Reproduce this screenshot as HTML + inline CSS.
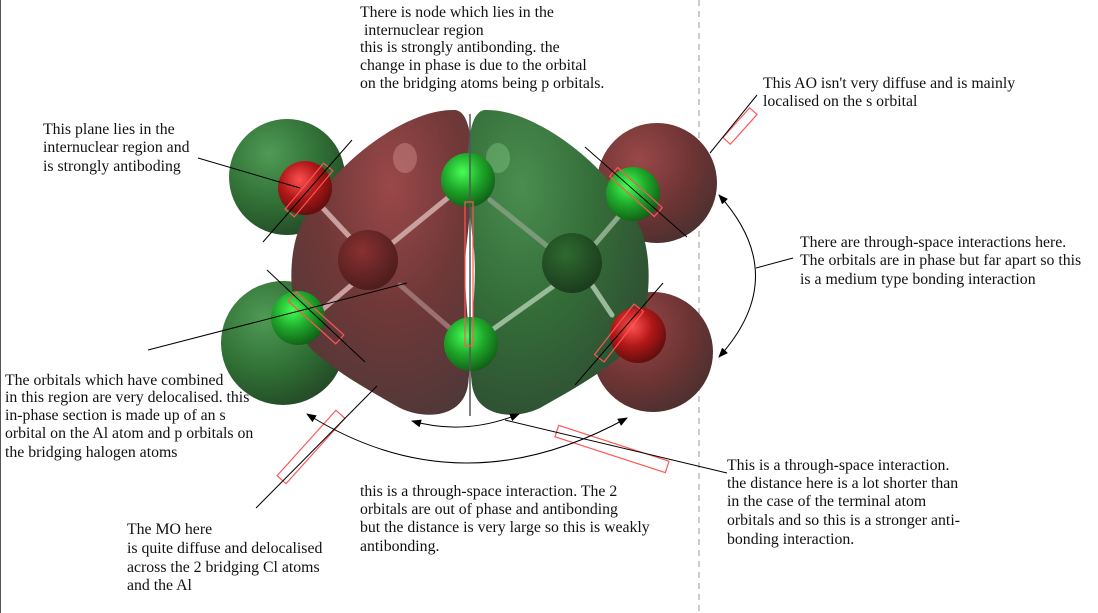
<!DOCTYPE html>
<html><head><meta charset="utf-8"><style>
html,body{margin:0;padding:0;background:#fff;}
svg{display:block}
text{font-family:"Liberation Serif",serif;font-size:15.8px;fill:#111}
</style></head><body>
<svg width="1098" height="613" viewBox="0 0 1098 613" xmlns="http://www.w3.org/2000/svg">
<defs>
<radialGradient id="gs" cx="0.35" cy="0.3" r="0.75"><stop offset="0" stop-color="#4f9a55"/><stop offset="0.6" stop-color="#2f6e34"/><stop offset="1" stop-color="#244a27"/></radialGradient>
<radialGradient id="rs" cx="0.35" cy="0.3" r="0.75"><stop offset="0" stop-color="#9a4848"/><stop offset="0.6" stop-color="#6e3434"/><stop offset="1" stop-color="#4d3030"/></radialGradient>
<radialGradient id="rl" cx="0.55" cy="0.25" r="0.8"><stop offset="0" stop-color="#9a4848"/><stop offset="0.5" stop-color="#703838"/><stop offset="1" stop-color="#503838"/></radialGradient>
<radialGradient id="gl" cx="0.3" cy="0.25" r="0.8"><stop offset="0" stop-color="#4a8d4f"/><stop offset="0.5" stop-color="#346e39"/><stop offset="1" stop-color="#2f4f32"/></radialGradient>
<radialGradient id="ga" cx="0.4" cy="0.35" r="0.7"><stop offset="0" stop-color="#44ff55"/><stop offset="0.5" stop-color="#1fa82a"/><stop offset="1" stop-color="#0f5a15"/></radialGradient>
<radialGradient id="ra" cx="0.4" cy="0.35" r="0.7"><stop offset="0" stop-color="#ff5050"/><stop offset="0.5" stop-color="#b01818"/><stop offset="1" stop-color="#5a0c0c"/></radialGradient>
<radialGradient id="al" cx="0.4" cy="0.35" r="0.7"><stop offset="0" stop-color="#8a3030"/><stop offset="1" stop-color="#4a1c1c"/></radialGradient>
<radialGradient id="ag" cx="0.4" cy="0.35" r="0.7"><stop offset="0" stop-color="#2e6a30"/><stop offset="1" stop-color="#1a3a1c"/></radialGradient>
<marker id="ar" markerWidth="10" markerHeight="8" refX="9" refY="4" orient="auto" markerUnits="userSpaceOnUse"><path d="M0,0 L10,4 L0,8 Z" fill="#000"/></marker>
<marker id="as" markerWidth="10" markerHeight="8" refX="1" refY="4" orient="auto" markerUnits="userSpaceOnUse"><path d="M10,0 L0,4 L10,8 Z" fill="#000"/></marker>
</defs>
<line x1="0.5" y1="0" x2="0.5" y2="613" stroke="#555"/>
<line x1="699" y1="0" x2="699" y2="613" stroke="#999" stroke-dasharray="6,5"/>

<circle cx="287" cy="177" r="58" fill="url(#gs)"/>
<circle cx="283" cy="343" r="62" fill="url(#gs)"/>
<circle cx="657" cy="183" r="60" fill="url(#rs)"/>
<circle cx="653" cy="352" r="60" fill="url(#rs)"/>
<path d="M455,110 C480,112 472,200 466,250 C462,300 474,340 468,385 C463,418 425,420 400,408 C372,392 340,375 312,350 C290,325 286,265 298,232 C325,168 405,108 455,110 Z" fill="url(#rl)"/>
<path d="M485,110 C460,112 468,200 474,250 C478,300 466,340 472,385 C477,418 515,420 540,408 C568,392 600,375 628,350 C650,325 654,265 642,232 C615,168 535,108 485,110 Z" fill="url(#gl)"/>
<ellipse cx="405" cy="158" rx="12" ry="15" fill="#c88" opacity="0.5"/>
<ellipse cx="498" cy="158" rx="12" ry="15" fill="#8c8" opacity="0.4"/>
<g stroke-width="5" stroke-linecap="round">
<line x1="320" y1="205" x2="360" y2="248" stroke="#c9a0a0"/>
<line x1="390" y1="245" x2="455" y2="192" stroke="#c9a0a0"/>
<line x1="355" y1="282" x2="322" y2="310" stroke="#c9a0a0"/>
<line x1="400" y1="285" x2="452" y2="330" stroke="#9a7070"/>
<line x1="490" y1="200" x2="552" y2="250" stroke="#7a9a7a"/>
<line x1="590" y1="250" x2="620" y2="215" stroke="#8aaa8a"/>
<line x1="555" y1="285" x2="492" y2="330" stroke="#9aba9a"/>
<line x1="590" y1="282" x2="612" y2="315" stroke="#9aba9a"/>
</g>
<circle cx="305" cy="188" r="27" fill="url(#ra)"/>
<circle cx="633" cy="194" r="27" fill="url(#ga)"/>
<circle cx="298" cy="318" r="27" fill="url(#ga)"/>
<circle cx="638" cy="335" r="28" fill="url(#ra)"/>
<circle cx="368" cy="260" r="30" fill="url(#al)"/>
<circle cx="572" cy="263" r="30" fill="url(#ag)"/>
<circle cx="468" cy="180" r="27" fill="url(#ga)"/>
<circle cx="471" cy="344" r="27" fill="url(#ga)"/>
<line x1="470" y1="114" x2="470" y2="416" stroke="#555" stroke-width="1.5"/>

<g fill="none" stroke="#f55" stroke-width="1.2">
<rect x="-6" y="-30" width="12" height="60" transform="translate(309,190) rotate(40)"/>
<rect x="-6" y="-32" width="12" height="64" transform="translate(316,318) rotate(-48)"/>
<rect x="-6" y="-30" width="12" height="60" transform="translate(636,192) rotate(-48)"/>
<rect x="-6" y="-32" width="12" height="64" transform="translate(619,333) rotate(38)"/>
<rect x="-4" y="-72" width="8" height="144" transform="translate(469,274)"/>
<rect x="-5" y="-20" width="10" height="40" transform="translate(740,126) rotate(42)"/>
<rect x="-6" y="-44" width="12" height="88" transform="translate(311,447) rotate(42)"/>
<rect x="-6" y="-58" width="12" height="116" transform="translate(612,449) rotate(-72)"/>
</g>

<g stroke="#000" stroke-width="1" fill="none">
<line x1="198" y1="158" x2="300" y2="188"/>
<line x1="263" y1="242" x2="352" y2="140"/>
<line x1="267" y1="270" x2="365" y2="362"/>
<line x1="148" y1="350" x2="407" y2="283"/>
<line x1="585" y1="147" x2="687" y2="237"/>
<line x1="663" y1="283" x2="575" y2="385"/>
<line x1="757" y1="95" x2="710" y2="153"/>
<line x1="256" y1="508" x2="377" y2="386"/>
<line x1="727" y1="473" x2="505" y2="420"/>
<line x1="756" y1="268" x2="793" y2="258"/>
<path d="M412,421 Q465,436 519,414" marker-start="url(#as)" marker-end="url(#ar)"/>
<path d="M307,414 Q460,510 627,418" marker-start="url(#as)" marker-end="url(#ar)"/>
<path d="M719,195 Q792,276 719,357" marker-start="url(#as)" marker-end="url(#ar)"/>
</g>

<text x="360" y="17">There is node which lies in the</text>
<text x="360" y="35"> &#160;internuclear region</text>
<text x="360" y="52">this is strongly antibonding. the</text>
<text x="360" y="70">change in phase is due to the orbital</text>
<text x="360" y="88">on the bridging atoms being p orbitals.</text>

<text x="43" y="134">This plane lies in the</text>
<text x="43" y="152">internuclear region and</text>
<text x="43" y="171">is strongly antiboding</text>

<text x="763" y="88">This AO isn't very diffuse and is mainly</text>
<text x="763" y="106">localised on the s orbital</text>

<text x="800" y="247">There are through-space interactions here.</text>
<text x="800" y="265">The orbitals are in phase but far apart so this</text>
<text x="800" y="284">is a medium type bonding interaction</text>

<text x="5" y="385">The orbitals which have combined</text>
<text x="5" y="402">in this region are very delocalised. this</text>
<text x="5" y="420">in-phase section is made up of an s</text>
<text x="5" y="438">orbital on the Al atom and p orbitals on</text>
<text x="5" y="457">the bridging halogen atoms</text>

<text x="360" y="496">this is a through-space interaction. The 2</text>
<text x="360" y="514">orbitals are out of phase and antibonding</text>
<text x="360" y="532">but the distance is very large so this is weakly</text>
<text x="360" y="551">antibonding.</text>

<text x="727" y="470">This is a through-space interaction.</text>
<text x="727" y="488">the distance here is a lot shorter than</text>
<text x="727" y="506">in the case of the terminal atom</text>
<text x="727" y="525">orbitals and so this is a stronger anti-</text>
<text x="727" y="544">bonding interaction.</text>

<text x="127" y="534">The MO here</text>
<text x="127" y="553">is quite diffuse and delocalised</text>
<text x="127" y="572">across the 2 bridging Cl atoms</text>
<text x="127" y="590">and the Al</text>
</svg>
</body></html>
